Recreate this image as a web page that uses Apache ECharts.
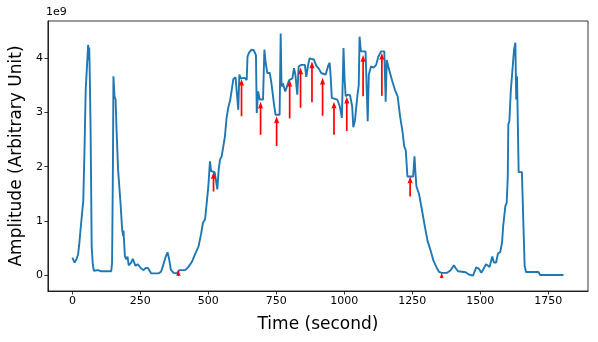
<!DOCTYPE html>
<html>
<head>
<meta charset="utf-8">
<script src="https://cdn.jsdelivr.net/npm/echarts@6.0.0/dist/echarts.min.js"></script>
<style>
  html, body { margin: 0; padding: 0; background: #fff; }
  #chart { width: 598px; height: 342px; }
</style>
</head>
<body>
<div id="chart"></div>
<script>
// time in seconds, amplitude in units of 1e9
var times = [0, 8, 15, 21, 25, 30, 37, 40, 45, 49, 55, 58, 60, 62, 64, 67, 71, 75, 79, 95, 100, 104, 143, 146, 149, 151, 155, 159, 162, 168, 177, 183, 187, 188, 193, 198, 203, 207, 216, 222, 226, 232, 240, 244, 253, 262, 270, 278, 284, 290, 317, 326, 332, 338, 344, 350, 356, 362, 372, 384, 393, 415, 427, 439, 451, 464, 473, 480, 488, 494, 500, 504, 506, 510, 523, 528, 533, 538, 543, 549, 555, 561, 567, 574, 580, 586, 592, 600, 605, 610, 614, 619, 634, 641, 644, 649, 659, 667, 675, 678, 683, 689, 701, 706, 711, 717, 726, 732, 741, 747, 762, 766, 769, 774, 779, 783, 791, 797, 809, 815, 820, 827, 832, 842, 855, 860, 866, 872, 888, 897, 905, 915, 931, 940, 946, 950, 954, 958, 974, 983, 991, 997, 1001, 1005, 1013, 1021, 1029, 1033, 1039, 1049, 1053, 1056, 1061, 1078, 1086, 1090, 1098, 1108, 1117, 1125, 1135, 1147, 1152, 1156, 1163, 1169, 1177, 1186, 1196, 1205, 1214, 1220, 1226, 1232, 1253, 1258, 1262, 1265, 1275, 1285, 1297, 1306, 1318, 1328, 1339, 1348, 1358, 1378, 1391, 1403, 1409, 1418, 1433, 1446, 1458, 1473, 1485, 1494, 1504, 1511, 1521, 1534, 1544, 1550, 1558, 1565, 1573, 1580, 1584, 1590, 1592, 1597, 1601, 1603, 1607, 1612, 1619, 1624, 1629, 1632, 1635, 1639, 1641, 1653, 1659, 1663, 1668, 1714, 1720, 1806];
var amps = [0.32, 0.23, 0.29, 0.38, 0.55, 0.84, 1.21, 1.36, 2.4, 3.42, 3.42, 4.25, 3.97, 4.2, 3.7, 2.68, 0.53, 0.2, 0.08, 0.09, 0.06, 0.07, 0.07, 0.23, 1.95, 3.67, 3.30, 3.24, 2.74, 1.95, 1.33, 0.84, 0.72, 0.82, 0.35, 0.29, 0.34, 0.18, 0.23, 0.30, 0.30, 0.17, 0.20, 0.22, 0.12, 0.09, 0.13, 0.13, 0.11, 0.03, 0.03, 0.06, 0.15, 0.17, 0.35, 0.42, 0.29, 0.10, 0.04, 0.03, 0.09, 0.09, 0.15, 0.24, 0.38, 0.53, 0.75, 0.96, 1.03, 1.33, 1.64, 1.95, 2.10, 1.92, 1.90, 1.75, 1.58, 1.95, 2.13, 2.19, 2.22, 2.56, 2.90, 3.11, 3.22, 3.42, 3.62, 3.65, 3.62, 3.05, 3.70, 3.63, 3.64, 3.60, 4.03, 4.10, 4.16, 4.15, 4.06, 2.99, 3.39, 3.24, 3.24, 4.16, 3.91, 3.73, 3.73, 3.54, 3.17, 2.96, 2.96, 4.46, 3.48, 3.54, 3.45, 3.39, 3.51, 3.60, 3.63, 3.82, 3.70, 3.33, 3.85, 3.88, 3.88, 3.66, 3.85, 4.00, 3.98, 3.86, 3.82, 3.73, 3.70, 3.85, 3.92, 3.65, 3.27, 3.24, 3.24, 3.12, 2.90, 4.19, 3.6, 3.30, 3.33, 3.32, 3.11, 2.73, 2.85, 3.36, 3.50, 4.40, 4.13, 4.13, 2.84, 3.70, 3.85, 3.83, 3.88, 4.03, 4.13, 4.13, 3.20, 3.97, 3.82, 3.79, 3.57, 3.42, 3.30, 2.93, 2.65, 2.38, 2.30, 1.82, 1.82, 2.19, 1.85, 1.64, 1.49, 1.21, 0.87, 0.63, 0.44, 0.26, 0.14, 0.06, 0.04, 0.04, 0.09, 0.18, 0.13, 0.07, 0.06, 0.05, 0.01, -0.01, 0.14, 0.12, 0.04, 0.06, 0.20, 0.15, 0.34, 0.23, 0.23, 0.40, 0.42, 0.60, 0.90, 0.90, 1.27, 1.33, 1.82, 2.78, 2.85, 3.39, 3.42, 4.16, 4.29, 3.24, 3.67, 3.67, 1.90, 1.90, 0.84, 0.17, 0.055, 0.055, 0.00, 0.00];

// red arrows: x position, start value, end value (1e9)
var arrowX = [390, 519, 622, 692, 751, 799, 839, 881, 920, 962, 1009, 1069, 1138, 1242, 1358];
var arrowFrom = [-0.02, 1.54, 2.93, 2.59, 2.38, 2.89, 3.09, 3.19, 2.94, 2.59, 2.66, 3.30, 3.31, 1.45, -0.06];
var arrowTo = [0.09, 1.90, 3.62, 3.20, 2.93, 3.60, 3.83, 3.94, 3.64, 3.20, 3.29, 4.06, 4.10, 1.82, 0.04];

var xTicks = [0, 250, 500, 750, 1000, 1250, 1500, 1750];
var yTicks = [0, 1, 2, 3, 4];

var lineData = times.map(function (t, i) { return [t, amps[i]]; });
var arrowData = arrowX.map(function (x, i) { return [x, arrowFrom[i], arrowTo[i]]; });

var font = 'DejaVu Sans';
var chart = echarts.init(document.getElementById('chart'));

function renderArrow(params, api) {
  var p0 = api.coord([api.value(0), api.value(1)]);
  var p1 = api.coord([api.value(0), api.value(2)]);
  var x = p0[0];
  var len = p0[1] - p1[1];
  var headLen = 7, headW = 5.2, shaftW = 1.7;
  var s = 1;
  if (len < headLen) { s = len / headLen; }
  var hl = headLen * s, hw = headW * s, sw = shaftW * s;
  var yTip = p1[1];
  var yNeck = yTip + hl * 0.9;
  var yBarb = yTip + hl;
  var yBase = p0[1];
  if (yBase < yNeck) { yBase = yNeck; }
  return {
    type: 'polygon',
    shape: {
      points: [
        [x - sw / 2, yBase], [x - sw / 2, yNeck], [x - hw / 2, yBarb],
        [x, yTip], [x + hw / 2, yBarb], [x + sw / 2, yNeck], [x + sw / 2, yBase]
      ]
    },
    style: { fill: '#ff0000' }
  };
}

chart.setOption({
  animation: false,
  title: {
    text: '1e9', left: 46, top: 7, padding: 0,
    textStyle: { fontFamily: font, fontSize: 11, fontWeight: 'normal', color: '#000' }
  },
  grid: {
    left: 46, right: 10, top: 21, bottom: 51,
    show: true, borderColor: '#000', borderWidth: 0.8, backgroundColor: 'transparent'
  },
  xAxis: {
    type: 'value', min: -90, max: 1896,
    name: 'Time (second)', nameLocation: 'middle', nameGap: 25,
    nameTextStyle: { fontFamily: font, fontSize: 17, color: '#000' },
    axisLine: { show: true, onZero: false, lineStyle: { color: '#000', width: 0.8 } },
    axisTick: { show: true, length: 3.5, lineStyle: { color: '#000', width: 0.8 }, customValues: xTicks },
    axisLabel: { fontFamily: font, fontSize: 11, color: '#000', margin: 5, customValues: xTicks,
      formatter: function (v) { return String(v); } },
    splitLine: { show: false }
  },
  yAxis: {
    type: 'value', min: -0.295, max: 4.69,
    name: 'Amplitude (Arbitrary Unit)', nameLocation: 'middle', nameGap: 22,
    nameTextStyle: { fontFamily: font, fontSize: 17, color: '#000' },
    axisLine: { show: true, onZero: false, lineStyle: { color: '#000', width: 0.8 } },
    axisTick: { show: true, length: 3.5, lineStyle: { color: '#000', width: 0.8 }, customValues: yTicks },
    axisLabel: { fontFamily: font, fontSize: 11, color: '#000', margin: 5, customValues: yTicks,
      formatter: function (v) { return String(v); } },
    splitLine: { show: false }
  },
  series: [
    {
      type: 'line', data: lineData, showSymbol: false, symbol: 'none',
      lineStyle: { color: '#1f77b4', width: 1.9 }, z: 2
    },
    {
      type: 'custom', data: arrowData, renderItem: renderArrow,
      encode: { x: 0, y: [1, 2] }, z: 3
    }
  ]
});
</script>
</body>
</html>
